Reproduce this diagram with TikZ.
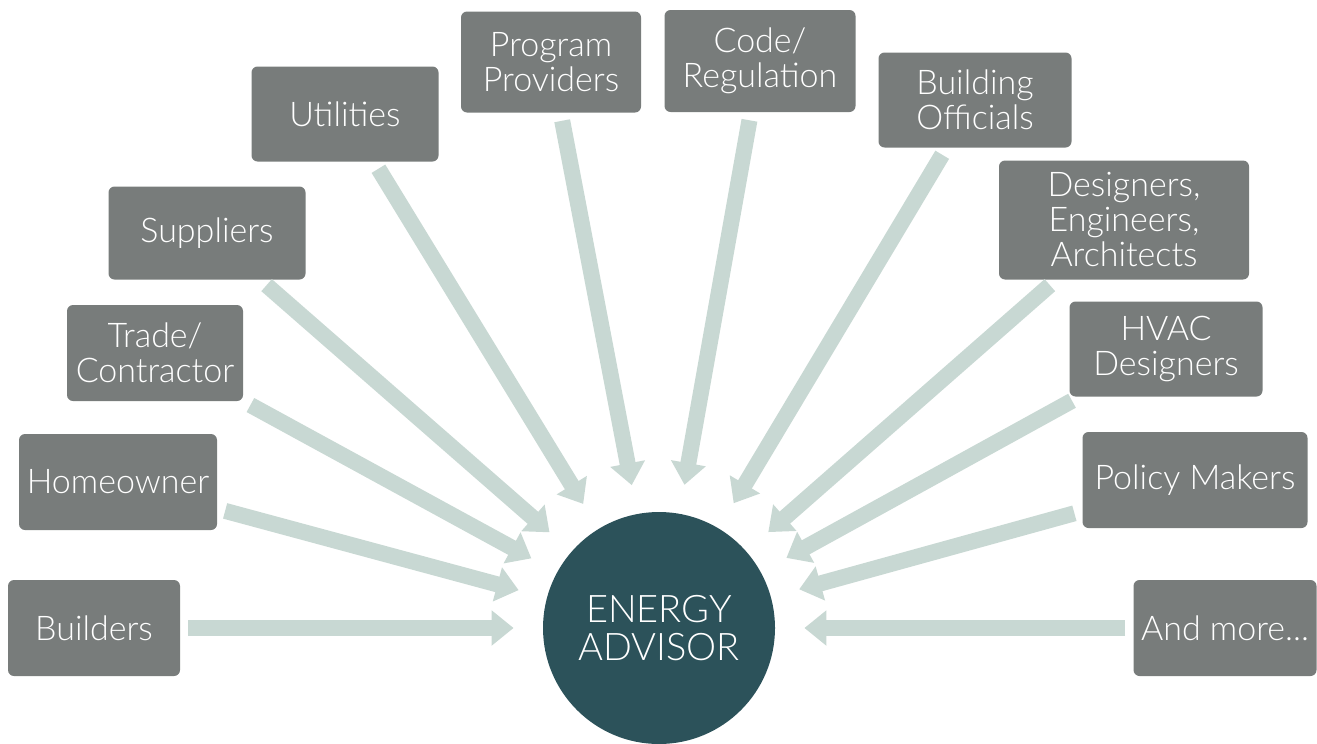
\documentclass[tikz,border=0pt]{standalone}
\usepackage{fontspec}
\setmainfont{Lato}[UprightFont=* Light]
\usetikzlibrary{arrows.meta}
\definecolor{boxgray}{RGB}{120,124,123}
\definecolor{tealdark}{RGB}{44,82,90}
\definecolor{arrowgreen}{RGB}{200,216,211}
\begin{document}
\begin{tikzpicture}[x=0.5pt, y=-0.5pt,
    main/.style = {fill=boxgray, rounded corners=3pt, text=white, align=center, inner sep=0pt,
                   font=\fontsize{17}{17.5}\selectfont},
    hub/.style = {circle, fill=tealdark, text=white, align=center, minimum size=116pt, inner sep=0pt,
                  font=\fontsize{19}{19}\selectfont},
    flow/.style = {draw=arrowgreen, line width=8pt, shorten <=4pt, -{Triangle[length=11pt, width=17pt]}}]
    \useasboundingbox (0,0) rectangle (1317,744);
    % Disegna i nodi del grafo
    \node[hub] (0) at (659,628) {ENERGY\\ADVISOR};
    \node[circle, minimum size=145pt, inner sep=0pt] (r) at (659,628) {};
    \node[main, minimum width=86pt, minimum height=48pt] (1) at (94,628) {Builders};
    \node[main, minimum width=99pt, minimum height=48pt] (2) at (118,482) {Homeowner};
    \node[main, minimum width=88pt, minimum height=48pt] (3) at (155,353) {Trade/\\Contractor};
    \node[main, minimum width=98.5pt, minimum height=46.5pt] (4) at (207,233) {Suppliers};
    \node[main, minimum width=93.5pt, minimum height=47.5pt] (5) at (345,114) {Utilities};
    \node[main, minimum width=90pt, minimum height=50.5pt] (6) at (551,62) {Program\\Providers};
    \node[main, minimum width=95.5pt, minimum height=51pt] (7) at (760,61) {Code/\\Regulation};
    \node[main, minimum width=96.5pt, minimum height=47.5pt] (8) at (975,100) {Building\\Officials};
    \node[main, minimum width=125pt, minimum height=59.5pt] (9) at (1124,220) {Designers,\\Engineers,\\Architects};
    \node[main, minimum width=96.5pt, minimum height=47.5pt] (10) at (1166,349) {HVAC\\Designers};
    \node[main, minimum width=112.5pt, minimum height=48pt] (11) at (1195,480) {Policy Makers};
    \node[main, minimum width=91.5pt, minimum height=48pt] (12) at (1225,628) {And more...};

    \draw[flow] (1) to (r);
    \draw[flow] (2) to (r);
    \draw[flow] (3) to (r);
    \draw[flow] (4) to (r);
    \draw[flow] (5) to (r);
    \draw[flow] (6) to (r);
    \draw[flow] (7) to (r);
    \draw[flow] (8) to (r);
    \draw[flow] (9) to (r);
    \draw[flow] (10) to (r);
    \draw[flow] (11) to (r);
    \draw[flow] (12) to (r);

\end{tikzpicture}
\end{document}
